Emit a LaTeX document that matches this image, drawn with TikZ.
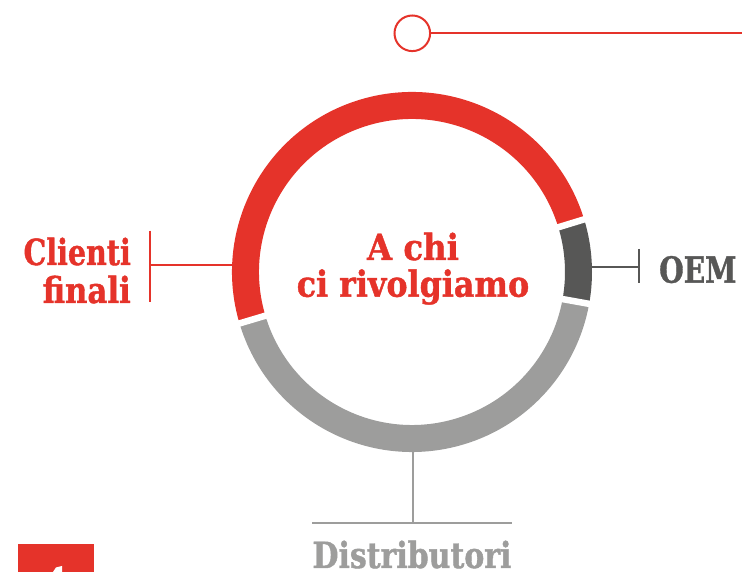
\documentclass[tikz,border=0pt]{standalone}
\usepackage{fontspec}
\usepackage{graphicx}
\newfontfamily\slab{DejaVu Serif Condensed}[FakeBold=1.2]
\definecolor{cred}{HTML}{E5332A}
\definecolor{cdark}{HTML}{575756}
\definecolor{clight}{HTML}{9D9D9C}
\begin{document}
\begin{tikzpicture}[x=1pt,y=1pt,
  lbl/.style={inner sep=0pt,font=\slab\bfseries\fontsize{36}{40}\selectfont},
  ringseg/.style={line width=27pt},
  gapline/.style={white,line width=6.5pt},
  conn/.style={line width=2pt}]
\useasboundingbox (0,0) rectangle (742,572);
\coordinate (c) at (412,300);
% ring
\draw[ringseg,cred] ([shift={(17:166.5)}]c) arc[start angle=17,end angle=196.6,radius=166.5];
\draw[ringseg,cdark] ([shift={(-10.2:166.5)}]c) arc[start angle=-10.2,end angle=17,radius=166.5];
\draw[ringseg,clight] ([shift={(196.6:166.5)}]c) arc[start angle=196.6,end angle=349.8,radius=166.5];
\foreach \a in {17,196.6,-10.2}{
  \draw[gapline] ([shift={(\a:148)}]c) -- ([shift={(\a:185)}]c);
}
% title
\node[lbl,text=cred,anchor=base] (t1) at (413,312) {A chi};
\node[lbl,text=cred,anchor=base] (t2) at (413,275.3) {\scalebox{0.98}[1]{ci rivolgiamo}};
% top circle and line
\node[circle,draw=cred,line width=2pt,minimum size=35.6pt,inner sep=0pt] (dot) at (412.3,538.7) {};
\coordinate (topend) at (742,538.7);
\draw[conn,cred] (dot.east) -- (topend);
% Clienti finali
\node[lbl,text=cred,anchor=base east] (cl1) at (131,307) {\scalebox{0.88}[1]{Clienti}};
\node[lbl,text=cred,anchor=base east] (cl2) at (131,269) {\scalebox{0.95}[1]{finali}};
\coordinate (clT) at (150,341.3);
\coordinate (clB) at (150,270.3);
\coordinate (clM) at (150,307);
\coordinate (clR) at (233,307);
\draw[conn,cred] (clT) -- (clB);
\draw[conn,cred] (clM) -- (clR);
% OEM
\node[lbl,text=cdark,anchor=base west] (oem) at (659,289.3) {\scalebox{0.87}[1]{OEM}};
\coordinate (oL) at (592,305.3);
\coordinate (oR) at (639.3,305.3);
\coordinate (oT) at (639.3,323);
\coordinate (oB) at (639.3,289);
\draw[conn,cdark] (oL) -- (oR);
\draw[conn,cdark] (oT) -- (oB);
% Distributori
\node[lbl,text=clight,anchor=base] (dist) at (412,4) {\scalebox{0.925}[1]{Distributori}};
\coordinate (dT) at (413.3,121);
\coordinate (dB) at (413.3,49);
\coordinate (dL) at (312,49);
\coordinate (dR) at (512,49);
\draw[conn,clight] (dT) -- (dB);
\draw[conn,clight] (dL) -- (dR);
% red square
\fill[cred] (17.7,0) rectangle (94,28);
\fill[white] (53,0) -- (56,4.5) -- (62,6) -- (62,0) -- cycle;
\end{tikzpicture}
\end{document}
